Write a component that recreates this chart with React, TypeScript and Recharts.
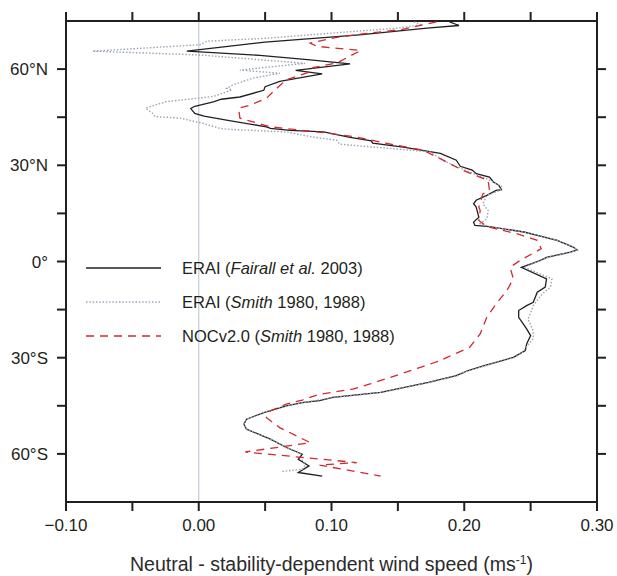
import { ScatterChart, Scatter, XAxis, YAxis, ReferenceLine, Legend } from 'recharts';

// latitude (deg, +N / -S) and wind speed difference (m/s)
const ERAI_F_LAT = [
  74.7, 73.6, 72.8, 70.7, 68.4, 65.6, 64.3, 62.9, 61.6, 59.6, 58.5, 56.2, 54.5, 53.4, 51.3, 50.6,
  49.8, 48.4, 47.7, 46.2, 45.3, 44.0, 42.0, 41.5, 40.9, 40.4, 38.7, 37.6, 36.9, 35.7, 33.7, 31.6,
  29.7, 28.5, 27.4, 26.3, 24.8, 23.8, 22.4, 22.2, 20.6, 19.1, 18.0, 17.0, 13.8, 12.3, 11.25, 10.9,
  9.2, 6.6, 4.5, 3.6, 2.9, 1.3, 0.3, -1.8, -5.4, -8.0, -9.6, -12.7, -13.75, -15.3, -17.4, -21.0,
  -23.1, -25.7, -27.8, -29.9, -32.5, -34.0, -35.6, -37.7, -40.8, -42.4, -43.4, -44.0, -45.0, -47.1,
  -49.2, -50.7, -52.3, -55.4, -58.0, -60.1, -61.7, -63.75, -65.8, -66.9,
];
const ERAI_F_VAL = [
  0.189, 0.196, 0.172, 0.121, 0.05, -0.009, 0.046, 0.084, 0.114, 0.073, 0.093, 0.061, 0.05, 0.049, 0.031, 0.017,
  0.011, -0.003, -0.006, -0.003, 0.004, 0.022, 0.051, 0.054, 0.069, 0.094, 0.114, 0.13, 0.131, 0.154, 0.182, 0.194,
  0.197, 0.206, 0.209, 0.219, 0.222, 0.226, 0.228, 0.224, 0.217, 0.209, 0.207, 0.209, 0.211, 0.207, 0.208, 0.219,
  0.245, 0.27, 0.282, 0.285, 0.28, 0.262, 0.257, 0.243, 0.262, 0.261, 0.255, 0.252, 0.247, 0.241, 0.241, 0.247,
  0.25, 0.247, 0.246, 0.237, 0.215, 0.203, 0.194, 0.173, 0.137, 0.101, 0.091, 0.078, 0.066, 0.049,
  0.036, 0.034, 0.036, 0.054, 0.066, 0.078, 0.075, 0.083, 0.075, 0.093,
];

const ERAI_S_LAT = [
  74.7, 73.8, 72.8, 69.6, 68.7, 67.6, 65.6, 64.4, 61.8, 59.7, 58.7, 57.2, 55.1, 54.0, 53.5, 51.5,
  50.4, 49.9, 48.0, 47.8, 46.25, 45.2, 44.7, 43.1, 42.1, 41.5, 41.2, 40.4, 38.8, 37.8, 36.6, 35.7,
  34.2, 30.5, 27.9, 25.8, 23.4, 22.2, 20.6, 18.0, 15.9, 13.3, 11.8, 10.9, 9.2, 6.6, 4.5, 3.6,
  2.9, 1.3, -1.8, -5.4, -8.0, -10.0, -13.75, -16.0, -18.0, -21.6, -24.0, -26.0, -28.3, -29.9,
  -32.5, -34.0, -35.6, -37.7, -40.8, -42.4, -44.0, -45.0, -47.1, -49.2, -50.7, -52.3, -55.4, -58.0,
  -60.1, -62.0, -63.5, -64.8, -65.5,
];
const ERAI_S_VAL = [
  0.162, 0.168, 0.15, 0.05, 0.006, 0.001, -0.08, 0.001, 0.08, 0.031, 0.061, 0.041, 0.026, 0.021, 0.025, 0.011,
  -0.012, -0.024, -0.039, -0.04, -0.035, -0.033, -0.014, 0.003, 0.011, 0.016, 0.024, 0.066, 0.086, 0.104, 0.106, 0.131,
  0.174, 0.189, 0.204, 0.217, 0.228, 0.227, 0.217, 0.214, 0.218, 0.217, 0.212, 0.219, 0.245, 0.27, 0.282, 0.285,
  0.28, 0.263, 0.245, 0.266, 0.265, 0.259, 0.252, 0.25, 0.248, 0.252, 0.252, 0.248, 0.244, 0.238,
  0.216, 0.203, 0.195, 0.174, 0.138, 0.102, 0.078, 0.066, 0.049, 0.036, 0.034, 0.036, 0.054, 0.066,
  0.077, 0.078, 0.08, 0.078, 0.062,
];

const NOC_LAT = [
  74.7, 72.3, 70.9, 69.9, 68.1, 67.1, 65.8, 64.5, 61.9, 60.5, 59.3, 56.7, 54.1, 50.9, 48.8, 47.8,
  44.7, 44.1, 42.0, 40.1, 38.8, 36.8, 34.7, 31.6, 28.4, 25.3, 22.2, 21.1, 17.0, 15.9, 12.8, 10.9,
  8.6, 6.6, 4.0, 0.3, -1.8, -5.4, -9.1, -13.2, -17.4, -22.6, -26.8, -29.9, -30.9, -33.0,
  -35.1, -38.2, -39.8, -41.4, -43.2, -44.5, -46.6, -48.7, -51.8, -56.5, -59.4, -62.7, -63.5, -66.9,
];
const NOC_VAL = [
  0.179, 0.152, 0.122, 0.104, 0.084, 0.089, 0.122, 0.116, 0.104, 0.086, 0.085, 0.066, 0.059, 0.051, 0.039, 0.03,
  0.031, 0.036, 0.054, 0.096, 0.119, 0.142, 0.169, 0.184, 0.199, 0.218, 0.219, 0.214, 0.211, 0.212, 0.211, 0.217,
  0.24, 0.255, 0.258, 0.242, 0.2345, 0.237, 0.232, 0.224, 0.217, 0.212, 0.204, 0.187, 0.182, 0.167,
  0.152, 0.129, 0.116, 0.091, 0.078, 0.066, 0.054, 0.051, 0.061, 0.084, 0.035, 0.119, 0.091, 0.137,
];

const X_TICKS = [-0.1, -0.05, 0, 0.05, 0.1, 0.15, 0.2, 0.25, 0.3];
const Y_TICKS = [-60, -45, -30, -15, 0, 15, 30, 45, 60];

const toPoints = (lat: number[], val: number[]) => lat.map((l, i) => ({ lat: l, v: val[i] }));

const FONT = '"Liberation Sans", Arial, Helvetica, sans-serif';
const INK = '#231f20';

const SERIES = [
  { key: 'eraiF', data: toPoints(ERAI_F_LAT, ERAI_F_VAL), stroke: '#231f20', width: 1.3, dash: undefined as string | undefined, pre: 'ERAI (', it: 'Fairall et al.', post: ' 2003)' },
  { key: 'eraiS', data: toPoints(ERAI_S_LAT, ERAI_S_VAL), stroke: '#9ba4b6', width: 1.4, dash: '1.5 1.8', pre: 'ERAI (', it: 'Smith', post: ' 1980, 1988)' },
  { key: 'noc', data: toPoints(NOC_LAT, NOC_VAL), stroke: '#d3282e', width: 1.3, dash: '8 6', pre: 'NOCv2.0 (', it: 'Smith', post: ' 1980, 1988)' },
];

const fmtX = (v: number) => {
  const r = Math.round(v * 100);
  if (r % 10 !== 0) return '';
  const s = Math.abs(v).toFixed(2);
  return v < 0 ? `\u2212${s}` : s;
};

const fmtY = (v: number) => {
  if (v % 30 !== 0) return '';
  if (v === 0) return '0°';
  return `${Math.abs(v)}°${v > 0 ? 'N' : 'S'}`;
};

const blank = () => '';
const noDot = () => <g />;

const renderLegend = () => (
  <div style={{ fontFamily: FONT, fontSize: 16.5, color: INK }}>
    {SERIES.map((s) => (
      <div key={s.key} style={{ display: 'flex', alignItems: 'center', height: 34 }}>
        <svg width={96} height={10} style={{ display: 'block' }}>
          <line x1={0} x2={75} y1={5} y2={5} stroke={s.stroke} strokeWidth={s.width} strokeDasharray={s.dash} />
        </svg>
        <span style={{ whiteSpace: 'nowrap' }}>
          {s.pre}
          <i>{s.it}</i>
          {s.post}
        </span>
      </div>
    ))}
  </div>
);

export default function App() {
  const axisLine = { stroke: INK, strokeWidth: 2 };
  const tickLine = { stroke: INK, strokeWidth: 2 };
  const tick = { fill: INK, fontSize: 17, fontFamily: FONT };

  return (
    <div style={{ position: 'absolute', left: 0, top: 0, width: 617, height: 576, background: '#fff' }}>
      <ScatterChart width={617} height={576} margin={{ top: 0, right: 0, bottom: 0, left: 0 }}>
        <XAxis
          xAxisId="b"
          type="number"
          dataKey="v"
          domain={[-0.1, 0.3]}
          allowDataOverflow
          ticks={X_TICKS}
          tickFormatter={fmtX}
          interval={0}
          height={74}
          axisLine={axisLine}
          tickLine={tickLine}
          tickSize={9}
          tickMargin={8}
          tick={tick}
        />
        <XAxis
          xAxisId="t"
          orientation="top"
          type="number"
          dataKey="v"
          domain={[-0.1, 0.3]}
          allowDataOverflow
          ticks={X_TICKS}
          tickFormatter={blank}
          interval={0}
          height={21}
          axisLine={axisLine}
          tickLine={tickLine}
          tickSize={9}
        />
        <YAxis
          yAxisId="l"
          type="number"
          dataKey="lat"
          domain={[-75, 75]}
          allowDataOverflow
          ticks={Y_TICKS}
          tickFormatter={fmtY}
          interval={0}
          width={66}
          axisLine={axisLine}
          tickLine={tickLine}
          tickSize={9}
          tickMargin={9}
          tick={tick}
        />
        <YAxis
          yAxisId="r"
          orientation="right"
          type="number"
          dataKey="lat"
          domain={[-75, 75]}
          allowDataOverflow
          ticks={Y_TICKS}
          tickFormatter={blank}
          interval={0}
          width={20}
          axisLine={axisLine}
          tickLine={tickLine}
          tickSize={9}
        />
        <ReferenceLine x={0} xAxisId="b" yAxisId="l" stroke="#c4ccd7" strokeWidth={1.2} />
        {SERIES.map((s) => (
          <Scatter
            key={s.key}
            name={s.key}
            data={s.data}
            xAxisId="b"
            yAxisId="l"
            fill="none"
            line={{ stroke: s.stroke, strokeWidth: s.width, strokeDasharray: s.dash }}
            shape={noDot}
            isAnimationActive={false}
          />
        ))}
        <Legend
          layout="horizontal"
          align="center"
          verticalAlign="middle"
          content={renderLegend}
          wrapperStyle={{ position: 'absolute', left: 86, top: 251, width: 360 }}
        />
      </ScatterChart>
      <div
        style={{
          position: 'absolute',
          left: 66,
          width: 531,
          top: 555,
          textAlign: 'center',
          fontFamily: FONT,
          fontSize: 19.5,
          lineHeight: '19px',
          color: '#2b2b2b',
          whiteSpace: 'nowrap',
        }}
      >
        Neutral - stability-dependent wind speed (ms
        <span style={{ fontSize: 12, verticalAlign: 'super', lineHeight: 0 }}>-1</span>)
      </div>
    </div>
  );
}
